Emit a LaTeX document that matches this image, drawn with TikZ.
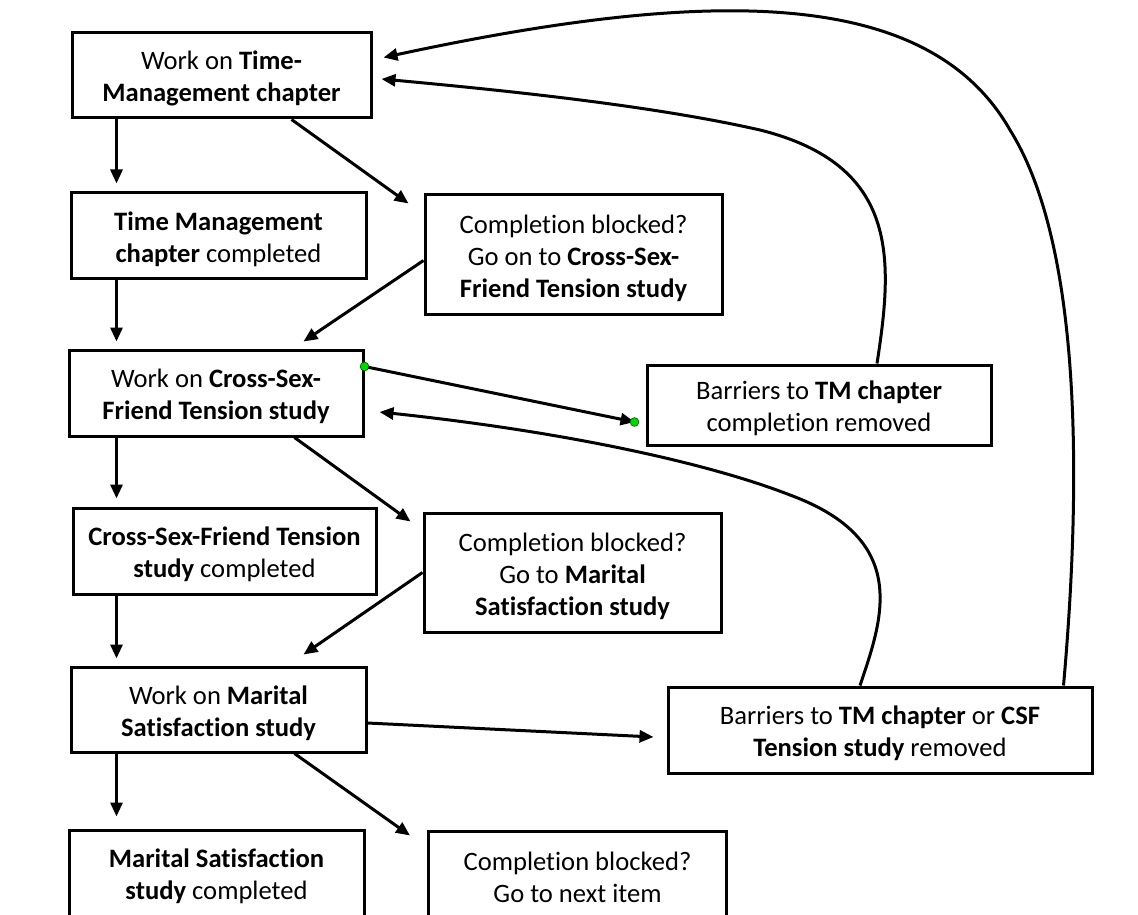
\documentclass[tikz,border=0pt]{standalone}
\usepackage{fontspec}
\setmainfont{Carlito}[Ligatures=NoCommon]
\usetikzlibrary{arrows.meta}

% espacio extra sobre la primera linea de cada caja
\newcommand{\tope}{\rule{0pt}{12.6pt}}

\begin{document}
\begin{tikzpicture}[x=0.5pt, y=-0.5pt,
    caja/.style={draw, line width=1.5pt, align=center, inner sep=0pt,
      font=\fontsize{13.3}{16}\selectfont},
    flecha/.style={line width=1.5pt, -{Triangle[length=7pt,width=6pt]}},
    punto/.style={circle, fill=green!85!black, draw=green!35!black,
      line width=0.3pt, inner sep=0pt, minimum size=4.4pt}]

    % Marco de la figura
    \useasboundingbox (0,0) rectangle (1138,914);
    \clip (0,0) rectangle (1138,914);

    % Columna izquierda
    \node[caja, minimum width=149.5pt, minimum height=42.5pt] (tmwork) at (221.5,75.5)
      {\tope Work on \textbf{Time-}\\\textbf{Management chapter}};
    \node[caja, minimum width=147.5pt, minimum height=43pt] (tmdone) at (218.5,236)
      {\tope\textbf{Time Management}\\\textbf{chapter} completed};
    \node[caja, minimum width=147pt, minimum height=43pt] (csfwork) at (216,393)
      {\tope Work on \textbf{Cross-Sex-}\\\textbf{Friend Tension study}};
    \node[caja, minimum width=151.5pt, minimum height=43pt] (csfdone) at (224.5,551)
      {\tope\textbf{Cross-Sex-Friend Tension}\\\textbf{study} completed};
    \node[caja, minimum width=147.5pt, minimum height=42.5pt] (mswork) at (218.5,709.5)
      {\tope Work on \textbf{Marital}\\\textbf{Satisfaction study}};
    \node[caja, minimum width=147.5pt, minimum height=43pt] (msdone) at (216.5,873)
      {\tope\textbf{Marital Satisfaction}\\\textbf{study} completed};

    % Columna central
    \node[caja, minimum width=148.5pt, minimum height=59.5pt] (block1) at (573.5,254.5)
      {\tope Completion blocked?\\Go on to \textbf{Cross-Sex-}\\\textbf{Friend Tension study}};
    \node[caja, minimum width=148.5pt, minimum height=59.5pt] (block2) at (572.5,572.5)
      {\tope Completion blocked?\\Go to \textbf{Marital}\\\textbf{Satisfaction study}};
    \node[caja, minimum width=149pt, minimum height=43pt] (block3) at (577.5,874)
      {\tope Completion blocked?\\Go to next item};

    % Columna derecha
    \node[caja, minimum width=172pt, minimum height=40pt] (barTM) at (819,405)
      {\tope Barriers to \textbf{TM chapter}\\completion removed};
    \node[caja, minimum width=212pt, minimum height=43pt] (barboth) at (880,730)
      {\tope Barriers to \textbf{TM chapter} or \textbf{CSF}\\\textbf{Tension study} removed};

    % Flechas verticales
    \draw[flecha] ([xshift=23pt]tmwork.south west) -- ([xshift=23pt,yshift=4pt]tmwork.south west |- tmdone.north);
    \draw[flecha] ([xshift=23.5pt]tmdone.south west) -- ([xshift=23.5pt,yshift=3.5pt]tmdone.south west |- csfwork.north);
    \draw[flecha] ([xshift=24.5pt]csfwork.south west) -- ([xshift=24.5pt,yshift=4pt]csfwork.south west |- csfdone.north);
    \draw[flecha] ([xshift=22.5pt]csfdone.south west) -- ([xshift=22.5pt,yshift=3.5pt]csfdone.south west |- mswork.north);
    \draw[flecha] ([xshift=23.5pt]mswork.south west) -- ([xshift=23.5pt,yshift=6pt]mswork.south west |- msdone.north);

    % Flechas diagonales
    \draw[flecha] ([xshift=-40.5pt]tmwork.south east) -- ([xshift=-7.5pt,yshift=-5pt]block1.north west);
    \draw[flecha] ([yshift=-3pt]block1.west) -- ([xshift=-30.5pt,yshift=3.5pt]csfwork.north east);
    \draw[flecha] ([xshift=-35pt]csfwork.south east) -- ([xshift=-6pt,yshift=-5pt]block2.north west);
    \draw[flecha] (block2.west) -- ([xshift=-32pt,yshift=5.5pt]mswork.north east);
    \draw[flecha] ([xshift=-36.5pt]mswork.south east) -- ([xshift=-8.5pt,yshift=-3pt]block3.north west);

    % Flechas hacia la derecha
    \coordinate (ini) at ([yshift=-9pt]csfwork.north east);
    \coordinate (fin) at ([xshift=-5.5pt,yshift=-8.5pt]barTM.west);
    \draw[flecha] (ini) -- (fin);
    \node[punto] (pini) at (ini) {};
    \node[punto] (pfin) at (fin) {};
    \draw[flecha] ([yshift=-6.75pt]mswork.east) -- ([xshift=-6.5pt,yshift=-3.5pt]barboth.west);

    % Curvas de regreso
    \draw[flecha] ([xshift=29pt]barTM.north) .. controls (893,260) and (900,165) .. (760,130)
      .. controls (650,105) and (500,90) .. ([xshift=4.5pt,yshift=-1.75pt]tmwork.east);
    \draw[flecha] ([xshift=-15pt]barboth.north east) .. controls (1080,500) and (1085,250) .. (1010,130)
      .. controls (930,-10) and (720,-15) .. ([xshift=5.5pt,yshift=9pt]tmwork.east);
    \draw[flecha] ([xshift=-10pt]barboth.north) .. controls (882,620) and (912,540) .. (790,495)
      .. controls (700,460) and (550,430) .. ([xshift=7.5pt,yshift=-9.5pt]csfwork.east);
\end{tikzpicture}
\end{document}
